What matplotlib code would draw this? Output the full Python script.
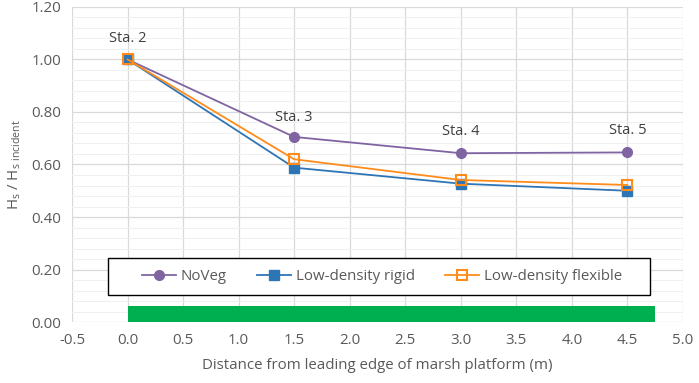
import matplotlib
matplotlib.use("Agg")
import matplotlib.pyplot as plt
from matplotlib.patches import Rectangle
import numpy as np

plt.rcParams['font.family'] = ['Open Sans', 'DejaVu Sans']

# data
distance = [0.0, 1.5, 3.0, 4.5]
noveg = [1.00, 0.705, 0.643, 0.646]
rigid = [1.00, 0.588, 0.527, 0.500]
flexible = [1.00, 0.620, 0.541, 0.522]
stations = ["Sta. 2", "Sta. 3", "Sta. 4", "Sta. 5"]
station_y = [1.08, 0.78, 0.725, 0.73]
marsh_extent = [0.0, 4.75]
marsh_height = 0.062

grey = "#595959"
c_noveg = "#8064A2"
c_rigid = "#2E75B6"
c_flex = "#FF8C1A"

fig = plt.figure(figsize=(6.99, 3.83), dpi=100)
ax = fig.add_axes([0.103, 0.159, 0.874, 0.823])

ax.set_xlim(-0.5, 5.0)
ax.set_ylim(0, 1.2)
ax.set_xticks(np.arange(-0.5, 5.01, 0.5))
ax.set_yticks(np.arange(0, 1.21, 0.2))
ax.set_yticks(np.arange(0, 1.21, 0.04), minor=True)
ax.set_xticklabels([f"{v:.1f}" for v in np.arange(-0.5, 5.01, 0.5)])
ax.set_yticklabels([f"{v:.2f}" for v in np.arange(0, 1.21, 0.2)])
ax.grid(which="major", color="#D9D9D9", lw=0.9)
ax.grid(which="minor", axis="y", color="#F0F0F0", lw=0.7)
ax.set_axisbelow(True)
for s in ax.spines.values():
    s.set_visible(False)
ax.tick_params(which="both", length=0, labelsize=10.8, labelcolor=grey, pad=8)

# marsh platform bar
ax.add_patch(Rectangle((marsh_extent[0], 0), marsh_extent[1] - marsh_extent[0], marsh_height,
                       facecolor="#00B050", edgecolor="none", zorder=2))

ax.plot(distance, noveg, color=c_noveg, lw=1.3, marker="o", ms=7, label="NoVeg", zorder=3)
ax.plot(distance, rigid, color=c_rigid, lw=1.3, marker="s", ms=6.5, label="Low-density rigid", zorder=4)
ax.plot(distance, flexible, color=c_flex, lw=1.3, marker="s", ms=6.5, mfc="none", mew=1.5,
        label="Low-density flexible", zorder=5)

for x, y, t in zip(distance, station_y, stations):
    ax.text(x, y, t, ha="center", va="center", fontsize=10.5, color="#404040")

# legend box drawn separately so it can be wider than its content
ax.add_patch(Rectangle((0.059, 0.086), 0.887, 0.117, transform=ax.transAxes,
                       facecolor="white", edgecolor="black", lw=1.0, zorder=6))
leg = ax.legend(loc="center", bbox_to_anchor=(0.507, 0.145), ncol=3, fontsize=10.8,
                frameon=False, handlelength=2.3, handletextpad=0.3, columnspacing=2.0)
leg.set_zorder(7)
for t in leg.get_texts():
    t.set_color(grey)

ax.set_xlabel("Distance from leading edge of marsh platform (m)", fontsize=10.8, color=grey, labelpad=7)
ax.set_ylabel(r"H$_\mathregular{s}$ / H$_\mathregular{s\ incident}$", fontsize=10.8, color=grey, labelpad=6)

fig.savefig("out.png", dpi=100)
